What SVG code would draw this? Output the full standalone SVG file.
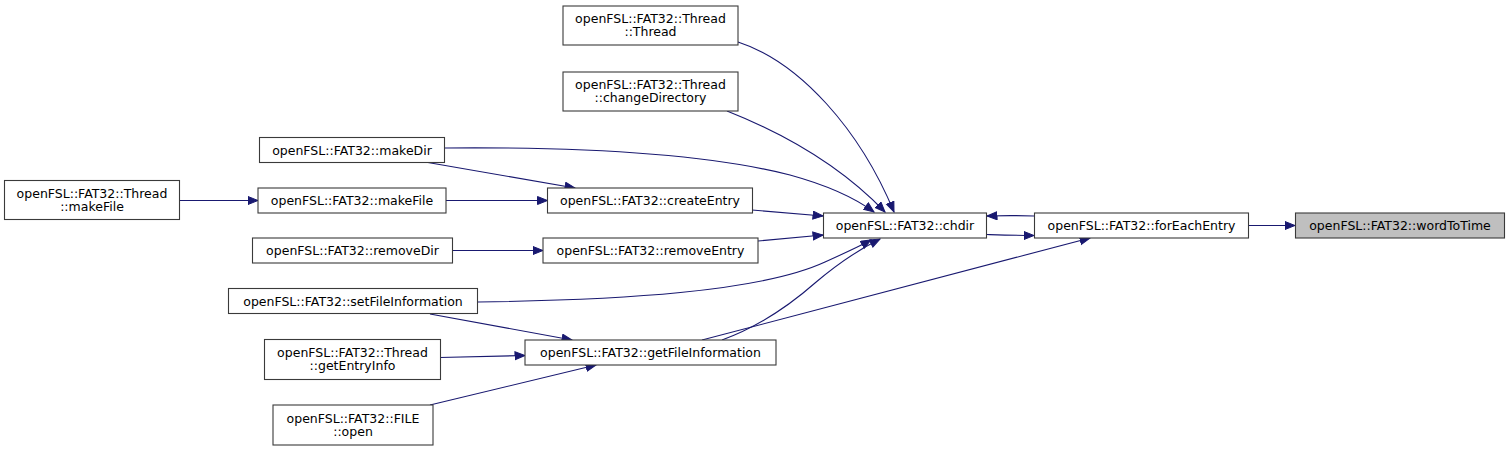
<svg xmlns="http://www.w3.org/2000/svg" width="1511" height="452" viewBox="0 0 1511 452">
<style>
.n rect{fill:#ffffff;stroke:#3a3a3a;stroke-width:1.1}
.n.f rect{fill:#bfbfbf}
.n text{font-family:"DejaVu Sans","Liberation Sans",sans-serif;font-size:12.5px;fill:#000;text-anchor:middle}
.e path{fill:none;stroke:#191970;stroke-width:1.1;marker-end:url(#ah)}
</style>
<defs>
<marker id="ah" markerUnits="userSpaceOnUse" markerWidth="12" markerHeight="10" refX="10.5" refY="4.5" orient="auto">
<path d="M0.5,0.5 L10.5,4.5 L0.5,8.5 z" fill="#191970" stroke="#191970" stroke-width="1"/>
</marker>
</defs>
<rect width="1511" height="452" fill="#ffffff"/>
<g id="edges" class="e">
<path d="M1248.5,225.5 L1295,225.5"/>
<path d="M987,234.5 C1003,235 1018,235.5 1034,235.5"/>
<path d="M1034,216 C1018,215.5 1003,215.5 987,216"/>
<path d="M702,340 L1090,238"/>
<path d="M738,42 C800,62 860,130 894,212"/>
<path d="M727,111 C780,132 840,165 885,212"/>
<path d="M445,148 C560,147 700,152 790,175 C830,186 855,198 874,212"/>
<path d="M425,162 L575,188"/>
<path d="M180,200.5 L258,200.5"/>
<path d="M446,200.5 L547.5,200.5"/>
<path d="M752,210 L823,216"/>
<path d="M452.5,250.5 L543,250.5"/>
<path d="M758,241 L823,235"/>
<path d="M478,302 C620,300 760,292 825,262 C845,253 860,246 871,240"/>
<path d="M430,314 L572,340"/>
<path d="M440,357.5 L525,355.5"/>
<path d="M430,405 L596,365"/>
<path d="M722,340 C760,326 790,305 815,283 C835,266 858,250 880,239"/>
</g>
<g id="node_thread_thread" class="n"><rect x="563" y="6" width="175" height="39"/><text x="650.5" y="23">openFSL::FAT32::Thread</text><text x="650.5" y="36">::Thread</text></g>
<g id="node_thread_changedirectory" class="n"><rect x="563" y="72" width="175" height="39"/><text x="650.5" y="89">openFSL::FAT32::Thread</text><text x="650.5" y="102">::changeDirectory</text></g>
<g id="node_makedir" class="n"><rect x="259.5" y="137.5" width="185" height="25"/><text x="352" y="154.5">openFSL::FAT32::makeDir</text></g>
<g id="node_thread_makefile" class="n"><rect x="4.5" y="180.5" width="175" height="39"/><text x="92" y="197.5">openFSL::FAT32::Thread</text><text x="92" y="210.5">::makeFile</text></g>
<g id="node_makefile" class="n"><rect x="258" y="188" width="188" height="25"/><text x="352" y="205">openFSL::FAT32::makeFile</text></g>
<g id="node_createentry" class="n"><rect x="547.5" y="188" width="205" height="25"/><text x="650" y="205">openFSL::FAT32::createEntry</text></g>
<g id="node_removedir" class="n"><rect x="252.5" y="238" width="200" height="25"/><text x="352.5" y="255">openFSL::FAT32::removeDir</text></g>
<g id="node_removeentry" class="n"><rect x="543" y="238" width="215" height="25"/><text x="650.5" y="255">openFSL::FAT32::removeEntry</text></g>
<g id="node_setfileinformation" class="n"><rect x="228.5" y="288.5" width="249" height="25"/><text x="353" y="305.5">openFSL::FAT32::setFileInformation</text></g>
<g id="node_thread_getentryinfo" class="n"><rect x="264.5" y="339.5" width="176" height="40"/><text x="352.5" y="357">openFSL::FAT32::Thread</text><text x="352.5" y="370">::getEntryInfo</text></g>
<g id="node_file_open" class="n"><rect x="273" y="405" width="160" height="40"/><text x="353" y="422.5">openFSL::FAT32::FILE</text><text x="353" y="435.5">::open</text></g>
<g id="node_getfileinformation" class="n"><rect x="525" y="340" width="251" height="25"/><text x="650.5" y="357">openFSL::FAT32::getFileInformation</text></g>
<g id="node_chdir" class="n"><rect x="823.5" y="213" width="163" height="25"/><text x="905" y="230">openFSL::FAT32::chdir</text></g>
<g id="node_foreachentry" class="n"><rect x="1034.5" y="213" width="214" height="25"/><text x="1141.5" y="230">openFSL::FAT32::forEachEntry</text></g>
<g id="node_wordtotime" class="n f"><rect x="1295.5" y="213" width="209" height="25"/><text x="1400" y="230">openFSL::FAT32::wordToTime</text></g>
</svg>
